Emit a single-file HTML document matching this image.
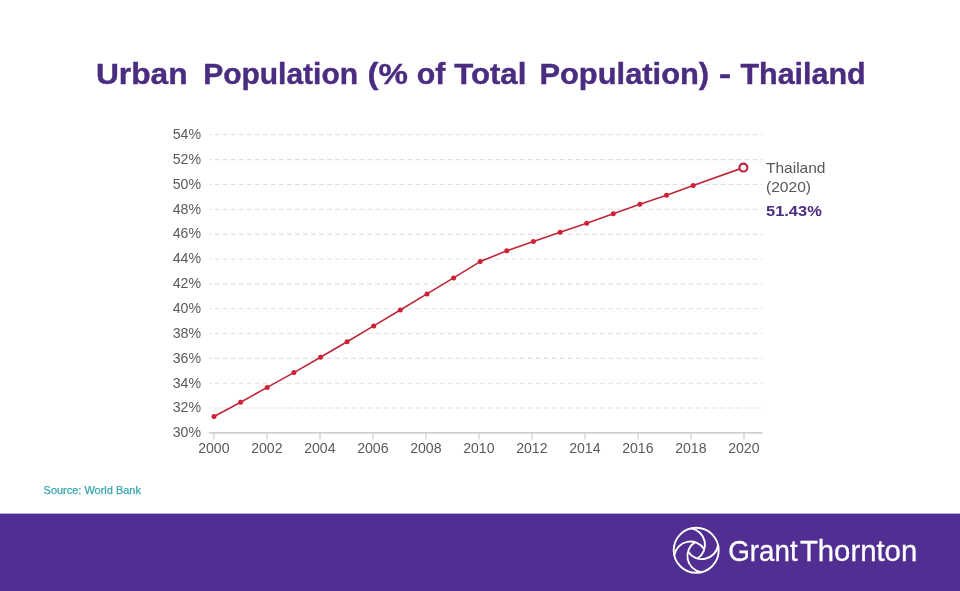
<!DOCTYPE html>
<html lang="en">
<head>
<meta charset="utf-8">
<title>Urban Population (% of Total Population) - Thailand</title>
<style>
html,body{margin:0;padding:0;background:#fff;}
body{width:960px;height:591px;overflow:hidden;font-family:"Liberation Sans",sans-serif;}
svg{display:block;}
text{font-family:"Liberation Sans",sans-serif;}
.title{font-weight:bold;font-size:30px;fill:#4a2c80;stroke:#4a2c80;stroke-width:0.4px;}
.ylab{font-size:14.2px;fill:#5a5a5a;}
.xlab{font-size:13.8px;fill:#5a5a5a;}
.grid line{stroke:#e0e0e0;stroke-width:1.1;stroke-dasharray:4.6 3.43;stroke-dashoffset:2.2;}
.axis line{stroke:#c8c8c8;stroke-width:1.1;}
.axis line.base{stroke:#bebebe;stroke-width:1.35;}
.lbl{font-size:14.2px;fill:#585858;}
.val{font-size:15.2px;font-weight:bold;fill:#4a2c80;}
.src{font-size:10.3px;fill:#3aa6ae;stroke:#3aa6ae;stroke-width:0.25px;}
.logo{font-size:30.4px;fill:#fff;stroke:#fff;stroke-width:0.3px;}
</style>
</head>
<body>
<svg width="960" height="591" viewBox="0 0 960 591">
<rect x="0" y="0" width="960" height="591" fill="#ffffff"/>
<g id="title">
<text class="title" y="84.00"><tspan x="95.94" textLength="91.71" lengthAdjust="spacingAndGlyphs">Urban</tspan> <tspan x="203.20" textLength="154.82" lengthAdjust="spacingAndGlyphs">Population</tspan> <tspan x="367.40" textLength="40.45" lengthAdjust="spacingAndGlyphs">(%</tspan> <tspan x="416.89" textLength="28.59" lengthAdjust="spacingAndGlyphs">of</tspan> <tspan x="454.20" textLength="72.19" lengthAdjust="spacingAndGlyphs">Total</tspan> <tspan x="539.44" textLength="169.68" lengthAdjust="spacingAndGlyphs">Population)</tspan> <tspan x="718.75" textLength="12.49" lengthAdjust="spacingAndGlyphs">-</tspan> <tspan x="740.40" textLength="125.35" lengthAdjust="spacingAndGlyphs">Thailand</tspan></text>
</g>
<g class="grid">
<line x1="208.9" x2="762.5" y1="134.80" y2="134.80"/>
<line x1="208.9" x2="762.5" y1="159.64" y2="159.64"/>
<line x1="208.9" x2="762.5" y1="184.48" y2="184.48"/>
<line x1="208.9" x2="762.5" y1="209.32" y2="209.32"/>
<line x1="208.9" x2="762.5" y1="234.16" y2="234.16"/>
<line x1="208.9" x2="762.5" y1="259.00" y2="259.00"/>
<line x1="208.9" x2="762.5" y1="283.84" y2="283.84"/>
<line x1="208.9" x2="762.5" y1="308.68" y2="308.68"/>
<line x1="208.9" x2="762.5" y1="333.52" y2="333.52"/>
<line x1="208.9" x2="762.5" y1="358.36" y2="358.36"/>
<line x1="208.9" x2="762.5" y1="383.20" y2="383.20"/>
<line x1="208.9" x2="762.5" y1="408.04" y2="408.04"/>
</g>
<g class="axis">
<line class="base" x1="208.9" x2="762.4" y1="432.88" y2="432.88"/>
<line x1="214.0" x2="214.0" y1="432.88" y2="439.58"/>
<line x1="267.0" x2="267.0" y1="432.88" y2="439.58"/>
<line x1="320.0" x2="320.0" y1="432.88" y2="439.58"/>
<line x1="373.0" x2="373.0" y1="432.88" y2="439.58"/>
<line x1="426.0" x2="426.0" y1="432.88" y2="439.58"/>
<line x1="479.0" x2="479.0" y1="432.88" y2="439.58"/>
<line x1="532.0" x2="532.0" y1="432.88" y2="439.58"/>
<line x1="585.0" x2="585.0" y1="432.88" y2="439.58"/>
<line x1="638.0" x2="638.0" y1="432.88" y2="439.58"/>
<line x1="691.0" x2="691.0" y1="432.88" y2="439.58"/>
<line x1="744.0" x2="744.0" y1="432.88" y2="439.58"/>
</g>
<g id="ylabels">
<text class="ylab" x="172.70" y="139.10" textLength="28.32" lengthAdjust="spacingAndGlyphs">54%</text>
<text class="ylab" x="172.70" y="163.94" textLength="28.32" lengthAdjust="spacingAndGlyphs">52%</text>
<text class="ylab" x="172.70" y="188.78" textLength="28.32" lengthAdjust="spacingAndGlyphs">50%</text>
<text class="ylab" x="172.70" y="213.62" textLength="28.32" lengthAdjust="spacingAndGlyphs">48%</text>
<text class="ylab" x="172.70" y="238.46" textLength="28.32" lengthAdjust="spacingAndGlyphs">46%</text>
<text class="ylab" x="172.70" y="263.30" textLength="28.32" lengthAdjust="spacingAndGlyphs">44%</text>
<text class="ylab" x="172.70" y="288.14" textLength="28.32" lengthAdjust="spacingAndGlyphs">42%</text>
<text class="ylab" x="172.70" y="312.98" textLength="28.32" lengthAdjust="spacingAndGlyphs">40%</text>
<text class="ylab" x="172.70" y="337.82" textLength="28.32" lengthAdjust="spacingAndGlyphs">38%</text>
<text class="ylab" x="172.70" y="362.66" textLength="28.32" lengthAdjust="spacingAndGlyphs">36%</text>
<text class="ylab" x="172.70" y="387.50" textLength="28.32" lengthAdjust="spacingAndGlyphs">34%</text>
<text class="ylab" x="172.70" y="412.34" textLength="28.32" lengthAdjust="spacingAndGlyphs">32%</text>
<text class="ylab" x="172.70" y="437.18" textLength="28.32" lengthAdjust="spacingAndGlyphs">30%</text>
</g>
<g id="xlabels">
<text class="xlab" x="198.15" y="452.80" textLength="31.37" lengthAdjust="spacingAndGlyphs">2000</text>
<text class="xlab" x="251.15" y="452.80" textLength="31.37" lengthAdjust="spacingAndGlyphs">2002</text>
<text class="xlab" x="304.15" y="452.80" textLength="31.37" lengthAdjust="spacingAndGlyphs">2004</text>
<text class="xlab" x="357.15" y="452.80" textLength="31.37" lengthAdjust="spacingAndGlyphs">2006</text>
<text class="xlab" x="410.15" y="452.80" textLength="31.37" lengthAdjust="spacingAndGlyphs">2008</text>
<text class="xlab" x="463.15" y="452.80" textLength="31.37" lengthAdjust="spacingAndGlyphs">2010</text>
<text class="xlab" x="516.15" y="452.80" textLength="31.37" lengthAdjust="spacingAndGlyphs">2012</text>
<text class="xlab" x="569.15" y="452.80" textLength="31.37" lengthAdjust="spacingAndGlyphs">2014</text>
<text class="xlab" x="622.15" y="452.80" textLength="31.37" lengthAdjust="spacingAndGlyphs">2016</text>
<text class="xlab" x="675.15" y="452.80" textLength="31.37" lengthAdjust="spacingAndGlyphs">2018</text>
<text class="xlab" x="728.15" y="452.80" textLength="31.37" lengthAdjust="spacingAndGlyphs">2020</text>
</g>
<polyline points="214.0,416.5 240.6,402.3 267.2,387.4 293.9,372.6 320.5,357.2 347.1,341.7 373.7,325.9 400.3,310.0 427.0,293.9 453.6,277.9 480.2,261.6 506.8,250.8 533.4,241.5 560.1,232.3 586.7,223.2 613.3,213.7 639.9,204.3 666.5,195.2 693.2,185.4 743.4,167.6" fill="none" stroke="#bd273b" stroke-width="1.65" stroke-linejoin="round"/>
<g fill="#cf2034">
<circle cx="214.0" cy="416.5" r="2.5"/>
<circle cx="240.6" cy="402.3" r="2.5"/>
<circle cx="267.2" cy="387.4" r="2.5"/>
<circle cx="293.9" cy="372.6" r="2.5"/>
<circle cx="320.5" cy="357.2" r="2.5"/>
<circle cx="347.1" cy="341.7" r="2.5"/>
<circle cx="373.7" cy="325.9" r="2.5"/>
<circle cx="400.3" cy="310.0" r="2.5"/>
<circle cx="427.0" cy="293.9" r="2.5"/>
<circle cx="453.6" cy="277.9" r="2.5"/>
<circle cx="480.2" cy="261.6" r="2.5"/>
<circle cx="506.8" cy="250.8" r="2.5"/>
<circle cx="533.4" cy="241.5" r="2.5"/>
<circle cx="560.1" cy="232.3" r="2.5"/>
<circle cx="586.7" cy="223.2" r="2.5"/>
<circle cx="613.3" cy="213.7" r="2.5"/>
<circle cx="639.9" cy="204.3" r="2.5"/>
<circle cx="666.5" cy="195.2" r="2.5"/>
<circle cx="693.2" cy="185.4" r="2.5"/>
</g>
<circle cx="743.4" cy="167.6" r="3.95" fill="#fff" stroke="#c0223f" stroke-width="2.1"/>
<text class="lbl" x="766.00" y="172.60" textLength="59.47" lengthAdjust="spacingAndGlyphs">Thailand</text>
<text class="lbl" x="766.00" y="191.90" textLength="44.99" lengthAdjust="spacingAndGlyphs">(2020)</text>
<text class="val" x="766.00" y="216.40" textLength="55.76" lengthAdjust="spacingAndGlyphs">51.43%</text>
<text class="src" x="43.60" y="493.80" textLength="97.29" lengthAdjust="spacingAndGlyphs">Source: World Bank</text>
<rect x="0" y="513.6" width="960" height="77.4" fill="#502e92"/>
<g id="mobius" transform="translate(696.2 550.3)" fill="none" stroke="#fff" stroke-width="1.9">
<circle cx="0" cy="0" r="22.5"/>
<path d="M-21.92 5.07A16.4 16.4 0 0 1 8.16 -1.15M-5.07 -21.92A16.4 16.4 0 0 1 1.15 8.16M21.92 -5.07A16.4 16.4 0 0 1 -8.16 1.15M5.07 21.92A16.4 16.4 0 0 1 -1.15 -8.16"/>
</g>
<text class="logo" y="561.30"><tspan x="728.29" textLength="69.30" lengthAdjust="spacingAndGlyphs">Grant</tspan> <tspan x="799.90" textLength="117.33" lengthAdjust="spacingAndGlyphs">Thornton</tspan></text>
</svg>
</body>
</html>
